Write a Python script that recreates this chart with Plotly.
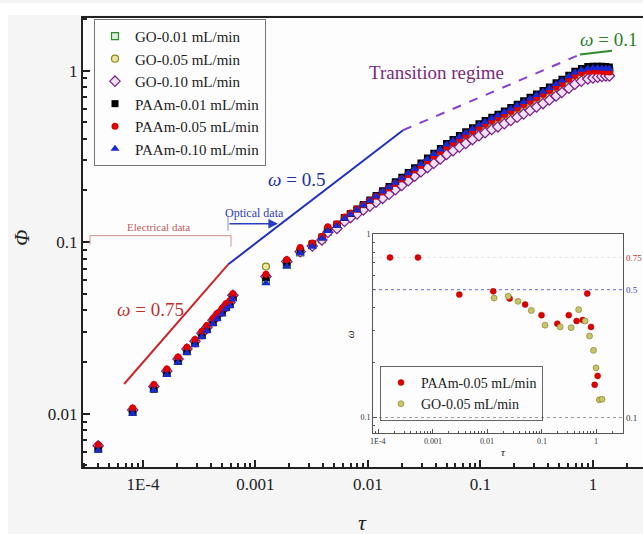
import math
import plotly.graph_objects as go

W, H = 643, 534
FONT = "Liberation Serif"


def px(x):
    return x / W


def py(y):
    return 1 - y / H


# ---------------- main data ----------------
TAU_ELEC = [4.0e-5, 8.1e-5, 1.25e-4, 1.63e-4, 2.05e-4, 2.46e-4, 2.9e-4, 3.34e-4,
            3.7e-4, 4.19e-4, 4.55e-4, 5.04e-4, 5.47e-4, 5.93e-4, 6.3e-4]
TAU_OPT = [1.24e-3, 1.9e-3, 2.5e-3, 3.2e-3, 3.9e-3, 4.4e-3, 5.3e-3,
           6.2e-3, 7.0e-3, 8.0e-3, 9.1e-3, 0.0104, 0.0118, 0.0135, 0.0154, 0.0175, 0.020,
           0.0228, 0.026, 0.0296, 0.0338, 0.0385, 0.044, 0.050, 0.057, 0.065, 0.074,
           0.085, 0.097, 0.110, 0.126, 0.143, 0.163, 0.186, 0.212, 0.242, 0.276,
           0.315, 0.36, 0.41, 0.47, 0.53, 0.61, 0.69, 0.79, 0.90, 1.0,
           1.1, 1.2, 1.3, 1.4]

GO001_ELEC = [0.0063, 0.0103, 0.0141, 0.0174, 0.0204, 0.0233, 0.0259, 0.0288, 0.0312, 0.0343, 0.0367, 0.0391, 0.0419, 0.0436, 0.0478]
GO001_OPT = [0.060, 0.074, 0.087, 0.096, 0.104, 0.115, 0.123,
             0.137, 0.144, 0.152, 0.161, 0.170, 0.180, 0.191, 0.202, 0.214, 0.227,
             0.241, 0.256, 0.272, 0.290, 0.309, 0.328, 0.349, 0.368, 0.387, 0.407,
             0.429, 0.452, 0.471, 0.492, 0.513, 0.536, 0.560, 0.585, 0.612, 0.641,
             0.671, 0.703, 0.738, 0.779, 0.818, 0.866, 0.914, 0.955, 0.980, 0.990,
             0.995, 0.995, 0.99, 0.99]

GO005_ELEC = [0.0064, 0.0104, 0.0142, 0.0175, 0.0206, 0.0235, 0.0261, 0.0291, 0.0315, 0.0346, 0.0370, 0.0395, 0.0423, 0.0440, 0.0485]
GO005_OPT = [0.072, 0.078, 0.090, 0.097, 0.106, 0.118, 0.125,
             0.136, 0.143, 0.150, 0.158, 0.167, 0.176, 0.186, 0.197, 0.208, 0.220,
             0.233, 0.247, 0.262, 0.278, 0.295, 0.313, 0.332, 0.350, 0.368, 0.387,
             0.407, 0.428, 0.446, 0.466, 0.485, 0.507, 0.530, 0.554, 0.580, 0.607,
             0.636, 0.667, 0.700, 0.739, 0.777, 0.823, 0.870, 0.910, 0.935, 0.945,
             0.950, 0.950, 0.945, 0.94]

GO010_ELEC = [0.0065, 0.0105, 0.0144, 0.0177, 0.0208, 0.0238, 0.0264, 0.0294, 0.0318, 0.0350, 0.0374, 0.0399, 0.0427, 0.0445, 0.0490]
GO010_OPT = [0.063, 0.077, 0.088, 0.095, 0.103, 0.114, 0.120,
             0.132, 0.139, 0.146, 0.154, 0.162, 0.171, 0.180, 0.190, 0.202, 0.214,
             0.228, 0.242, 0.257, 0.272, 0.288, 0.305, 0.324, 0.341, 0.358, 0.376,
             0.396, 0.417, 0.434, 0.453, 0.470, 0.490, 0.512, 0.534, 0.559, 0.585,
             0.613, 0.642, 0.674, 0.711, 0.746, 0.789, 0.832, 0.868, 0.893, 0.905,
             0.915, 0.925, 0.93, 0.93]

PAAM001_ELEC = [0.0062, 0.0102, 0.0139, 0.0172, 0.0202, 0.0230, 0.0256, 0.0285, 0.0309, 0.0339, 0.0363, 0.0387, 0.0415, 0.0432, 0.0475]
PAAM001_OPT = [0.062, 0.076, 0.089, 0.098, 0.107, 0.119, 0.127,
               0.139, 0.147, 0.156, 0.166, 0.176, 0.187, 0.199, 0.211, 0.225, 0.239,
               0.255, 0.271, 0.289, 0.309, 0.330, 0.352, 0.376, 0.396, 0.418, 0.440,
               0.464, 0.490, 0.511, 0.535, 0.557, 0.582, 0.609, 0.637, 0.667, 0.698,
               0.731, 0.766, 0.803, 0.848, 0.889, 0.940, 0.990, 1.03, 1.055, 1.06,
               1.06, 1.06, 1.055, 1.05]

PAAM005_ELEC = [0.0066, 0.0108, 0.0148, 0.0182, 0.0214, 0.0244, 0.0271, 0.0302, 0.0327, 0.0359, 0.0384, 0.0410, 0.0438, 0.0456, 0.0500]
PAAM005_OPT = [0.065, 0.079, 0.093, 0.099, 0.108, 0.123, 0.128,
               0.140, 0.148, 0.156, 0.165, 0.175, 0.185, 0.196, 0.207, 0.220, 0.233,
               0.248, 0.263, 0.280, 0.298, 0.318, 0.338, 0.360, 0.380, 0.400, 0.421,
               0.444, 0.468, 0.488, 0.510, 0.531, 0.555, 0.580, 0.606, 0.634, 0.663,
               0.694, 0.727, 0.762, 0.803, 0.842, 0.890, 0.935, 0.970, 0.990, 0.995,
               0.995, 0.99, 0.985, 0.98]

PAAM010_ELEC = [0.0061, 0.0100, 0.0137, 0.0168, 0.0198, 0.0226, 0.0251, 0.0280, 0.0303, 0.0333, 0.0356, 0.0380, 0.0407, 0.0424, 0.0465]
PAAM010_OPT = [0.0575, 0.072, 0.086, 0.094, 0.105, 0.116, 0.124,
               0.137, 0.145, 0.154, 0.164, 0.174, 0.185, 0.197, 0.209, 0.222, 0.236,
               0.252, 0.268, 0.285, 0.305, 0.326, 0.347, 0.371, 0.391, 0.412, 0.434,
               0.458, 0.483, 0.504, 0.527, 0.549, 0.574, 0.600, 0.628, 0.657, 0.688,
               0.720, 0.755, 0.791, 0.835, 0.876, 0.926, 0.975, 1.01, 1.03, 1.035,
               1.035, 1.03, 1.03, 1.025]

SERIES_NAMES = ["GO-0.01 mL/min", "GO-0.05 mL/min", "GO-0.10 mL/min",
                "PAAm-0.01 mL/min", "PAAm-0.05 mL/min", "PAAm-0.10 mL/min"]

# guide lines (omega slopes)
LINE_075_TAU = [6.8e-5, 5.7e-4]
LINE_075_PHI = [0.0149, 0.074]
LINE_05_TAU = [5.7e-4, 0.0205]
LINE_05_PHI = [0.074, 0.449]
LINE_TR_TAU = [0.0205, 0.766]
LINE_TR_PHI = [0.449, 1.24]
LINE_01_TAU = [0.766, 1.476]
LINE_01_PHI = [1.24, 1.306]

X_TICKS = [1e-4, 1e-3, 1e-2, 1e-1, 1]
X_TICKTEXT = ["1E-4", "0.001", "0.01", "0.1", "1"]
Y_TICKS = [0.01, 0.1, 1]
Y_TICKTEXT = ["0.01", "0.1", "1"]

# ---------------- inset data ----------------
INSET_TAU_PAAM = [1.66e-4, 5.4e-4, 3.1e-3, 0.013, 0.026, 0.05, 0.10, 0.195, 0.316,
                  0.44, 0.57, 0.69, 0.81, 0.945, 1.07]
INSET_OMEGA_PAAM = [0.75, 0.75, 0.47, 0.49, 0.447, 0.415, 0.363, 0.326, 0.363,
                    0.337, 0.341, 0.476, 0.313, 0.151, 0.169]
INSET_TAU_GO = [0.0135, 0.0245, 0.037, 0.065, 0.116, 0.22, 0.35, 0.48, 0.63,
                0.76, 0.90, 1.0, 1.15, 1.29]
INSET_OMEGA_GO = [0.45, 0.46, 0.432, 0.385, 0.32, 0.313, 0.31, 0.389, 0.337,
                  0.279, 0.233, 0.187, 0.125, 0.126]
INSET_REF_LEVELS = [0.75, 0.5, 0.1]
INSET_REF_LABELS = ["0.75", "0.5", "0.1"]
INSET_Y_TICKS = [0.1, 1]
INSET_Y_TICKTEXT = ["0.1", "1"]

# ---------------- layout geometry ----------------
MAIN_X_RANGE = [-4.533, 0.445]
MAIN_Y_RANGE = [-2.313, 0.307]
INSET_X_RANGE = [-4.092, 0.495]
INSET_Y_RANGE = [-1.082, 0.005]
INSET_LEFT, INSET_RIGHT, INSET_TOP, INSET_BOTTOM = 373, 623, 232, 432


def minor_vals(d0, d1):
    vals = []
    for d in range(d0, d1):
        for m in range(2, 10):
            vals.append(m * 10.0 ** d)
    return vals


fig = go.Figure()

styles = [
    dict(symbol="square", size=7, color="#dff0d8", line=dict(color="#2e8b2e", width=1.2)),
    dict(symbol="circle", size=7, color="#efe7a0", line=dict(color="#8a8a1e", width=1.2)),
    dict(symbol="diamond", size=8, color="#f1e1f3", line=dict(color="#7a1f8a", width=1.2)),
    dict(symbol="square", size=7, color="#000000", line=dict(color="#000000", width=0)),
    dict(symbol="circle", size=7, color="#e00000", line=dict(color="#e00000", width=0)),
    dict(symbol="triangle-up", size=8, color="#1a2ad0", line=dict(color="#1a2ad0", width=0)),
]
series_y = [GO001_ELEC + GO001_OPT, GO005_ELEC + GO005_OPT, GO010_ELEC + GO010_OPT,
            PAAM001_ELEC + PAAM001_OPT, PAAM005_ELEC + PAAM005_OPT, PAAM010_ELEC + PAAM010_OPT]
tau_all = TAU_ELEC + TAU_OPT

# guide lines
fig.add_trace(go.Scatter(x=LINE_075_TAU, y=LINE_075_PHI, mode="lines",
                         line=dict(color="#c8282d", width=2), showlegend=False, hoverinfo="skip"))
fig.add_trace(go.Scatter(x=LINE_05_TAU, y=LINE_05_PHI, mode="lines",
                         line=dict(color="#2030b8", width=2), showlegend=False, hoverinfo="skip"))
fig.add_trace(go.Scatter(x=LINE_TR_TAU, y=LINE_TR_PHI, mode="lines",
                         line=dict(color="#8a3fd0", width=2, dash="dash"), showlegend=False, hoverinfo="skip"))
fig.add_trace(go.Scatter(x=LINE_01_TAU, y=LINE_01_PHI, mode="lines",
                         line=dict(color="#2e8b2e", width=2), showlegend=False, hoverinfo="skip"))

for name, ys, st in zip(SERIES_NAMES, series_y, styles):
    fig.add_trace(go.Scatter(
        x=tau_all, y=ys, mode="markers", name=name,
        marker=dict(symbol=st["symbol"], size=st["size"], color=st["color"], line=st["line"]),
        legend="legend"))

# inset reference lines
inset_ref_colors = ["#e4e4e4", "#6a6ad0", "#9a9a9a"]
for lvl, col in zip(INSET_REF_LEVELS, inset_ref_colors):
    fig.add_trace(go.Scatter(x=[10 ** INSET_X_RANGE[0], 10 ** INSET_X_RANGE[1]], y=[lvl, lvl],
                             mode="lines", line=dict(color=col, width=1, dash="dot"),
                             xaxis="x2", yaxis="y2", showlegend=False, hoverinfo="skip"))

fig.add_trace(go.Scatter(x=INSET_TAU_PAAM, y=INSET_OMEGA_PAAM, mode="markers",
                         name="PAAm-0.05 mL/min", xaxis="x2", yaxis="y2", legend="legend2",
                         marker=dict(symbol="circle", size=6, color="#dd0000",
                                     line=dict(color="#aa0000", width=0.5))))
fig.add_trace(go.Scatter(x=INSET_TAU_GO, y=INSET_OMEGA_GO, mode="markers",
                         name="GO-0.05 mL/min", xaxis="x2", yaxis="y2", legend="legend2",
                         marker=dict(symbol="circle", size=6, color="#c9c46a",
                                     line=dict(color="#7a7a20", width=0.6))))

axis_common = dict(type="log", showgrid=False, zeroline=False, showline=True,
                   linecolor="#222", linewidth=2, ticks="inside", tickcolor="#222",
                   tickwidth=1.5, ticklen=7,
                   tickfont=dict(family=FONT, size=17, color="#222"))

fig.update_layout(
    width=W, height=H,
    margin=dict(l=0, r=0, t=0, b=0),
    paper_bgcolor="#f5f5f5",
    plot_bgcolor="#fdfdfd",
    font=dict(family=FONT, color="#222"),
    xaxis=dict(**axis_common, domain=[px(83), 1.0], range=MAIN_X_RANGE, mirror=True,
               tickvals=X_TICKS, ticktext=X_TICKTEXT, anchor="y",
               minor=dict(tickvals=minor_vals(-5, 1), ticks="inside", ticklen=4,
                          tickcolor="#222", tickwidth=1.5)),
    yaxis=dict(**axis_common, domain=[py(467), py(15)], range=MAIN_Y_RANGE,
               tickvals=Y_TICKS, ticktext=Y_TICKTEXT, anchor="x",
               minor=dict(tickvals=minor_vals(-3, 1), ticks="inside", ticklen=4,
                          tickcolor="#222", tickwidth=1.5)),
    xaxis2=dict(type="log", domain=[px(INSET_LEFT), px(INSET_RIGHT)], range=INSET_X_RANGE,
                anchor="y2", showgrid=False, zeroline=False, showline=True, mirror=True,
                linecolor="#555", linewidth=1, ticks="inside", ticklen=4, tickcolor="#555",
                tickvals=X_TICKS, showticklabels=False,
                minor=dict(tickvals=minor_vals(-5, 1), ticks="inside", ticklen=2,
                           tickcolor="#555")),
    yaxis2=dict(type="log", domain=[py(INSET_BOTTOM), py(INSET_TOP)], range=INSET_Y_RANGE,
                anchor="x2", showgrid=False, zeroline=False, showline=True, mirror=True,
                linecolor="#555", linewidth=1, ticks="inside", ticklen=4, tickcolor="#555",
                tickvals=INSET_Y_TICKS, ticktext=INSET_Y_TICKTEXT,
                tickfont=dict(family=FONT, size=8, color="#333"),
                minor=dict(tickvals=minor_vals(-2, 1), ticks="inside", ticklen=2,
                           tickcolor="#555")),
    legend=dict(x=px(94), y=py(16), xanchor="left", yanchor="top",
                bgcolor="rgba(255,255,255,0)", bordercolor="#777", borderwidth=1,
                font=dict(family=FONT, size=15, color="#222"), tracegroupgap=0),
    legend2=dict(x=px(380), y=py(365), xanchor="left", yanchor="top",
                 bgcolor="rgba(255,255,255,0)", bordercolor="#666", borderwidth=1,
                 font=dict(family=FONT, size=14, color="#222"), tracegroupgap=0),
)

annotations = [
    dict(x=px(22), y=py(236), text="<i>Φ</i>", textangle=-90, font=dict(size=21)),
    dict(x=px(362), y=py(522), text="<i>τ</i>", font=dict(size=22)),
    dict(x=px(150), y=py(308), text="<i>ω</i> = 0.75", font=dict(size=19, color="#c03030")),
    dict(x=px(296), y=py(178), text="<i>ω</i> = 0.5", font=dict(size=19, color="#2030a0")),
    dict(x=px(436), y=py(70), text="Transition regime", font=dict(size=19, color="#7b2a7b")),
    dict(x=px(608), y=py(37), text="<i>ω</i> = 0.1", font=dict(size=19, color="#2e7d2e")),
    dict(x=px(158), y=py(225), text="Electrical data", font=dict(size=11, color="#c06060")),
    dict(x=px(254), y=py(211), text="Optical data", font=dict(size=12, color="#3040b0")),
    dict(x=px(350), y=py(333), text="<i>ω</i>", textangle=-90, font=dict(size=11)),
    dict(x=px(503), y=py(452), text="<i>τ</i>", font=dict(size=11)),
]
# inset x tick labels placed on the inset's log scale
inset_span = INSET_X_RANGE[1] - INSET_X_RANGE[0]
for v, t in zip(X_TICKS, X_TICKTEXT):
    xpix = INSET_LEFT + (math.log10(v) - INSET_X_RANGE[0]) / inset_span * (INSET_RIGHT - INSET_LEFT)
    annotations.append(dict(x=px(xpix), y=py(441), text=t, font=dict(size=8, color="#333")))
for lbl, lvl, col in zip(INSET_REF_LABELS, INSET_REF_LEVELS, ["#c03030", "#4040c0", "#333"]):
    annotations.append(dict(x=px(624), y=py(233 - 184 * math.log10(lvl)),
                            text=lbl, xanchor="left", font=dict(size=9, color=col)))
for a in annotations:
    a.setdefault("xref", "paper")
    a.setdefault("yref", "paper")
    a.setdefault("xanchor", "center")
    a.setdefault("yanchor", "middle")
    a.setdefault("showarrow", False)
    a["font"].setdefault("family", FONT)
fig.update_layout(annotations=annotations)

# optical arrow
fig.add_annotation(x=px(278), y=py(222), ax=-50, ay=0, xref="paper", yref="paper",
                   text="", showarrow=True, arrowhead=2, arrowsize=1.2, arrowwidth=1.6,
                   arrowcolor="#2a3cc0")

shapes = [
    # white strips around the light gray sheet
    dict(type="rect", xref="paper", yref="paper", x0=0, x1=1, y0=py(12), y1=1,
         fillcolor="white", line=dict(width=0), layer="below"),
    dict(type="rect", xref="paper", yref="paper", x0=0, x1=px(8), y0=0, y1=1,
         fillcolor="white", line=dict(width=0), layer="below"),
    # electrical bracket
    dict(type="line", xref="paper", yref="paper", x0=px(90), x1=px(231), y0=py(234), y1=py(234),
         line=dict(color="#d09090", width=1)),
    dict(type="line", xref="paper", yref="paper", x0=px(90), x1=px(90), y0=py(234), y1=py(243),
         line=dict(color="#d09090", width=1)),
    dict(type="line", xref="paper", yref="paper", x0=px(231), x1=px(231), y0=py(234), y1=py(245),
         line=dict(color="#d09090", width=1)),
    # optical start tick
    dict(type="line", xref="paper", yref="paper", x0=px(228), x1=px(228), y0=py(214), y1=py(229),
         line=dict(color="#8090c8", width=1)),
]
fig.update_layout(shapes=shapes)

fig.write_html("out.html")
